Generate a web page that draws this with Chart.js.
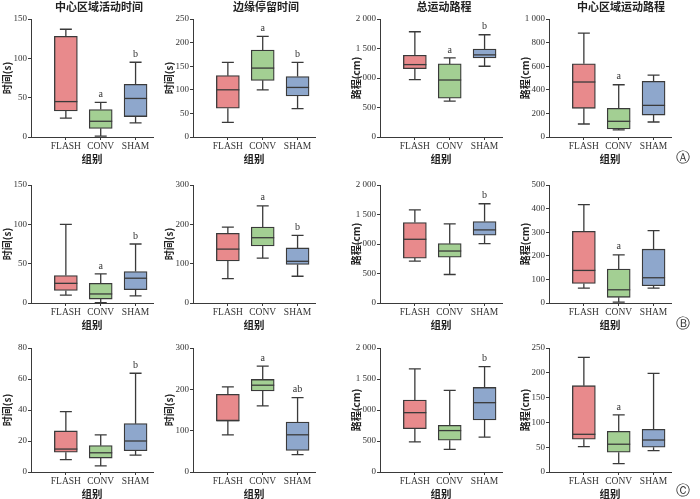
<!DOCTYPE html>
<html>
<head>
<meta charset="utf-8">
<script src="https://cdn.jsdelivr.net/npm/chart.js@4.4.0/dist/chart.umd.min.js"></script>
<style>
  body { margin: 0; width: 700px; height: 499px; background: #fff; position: relative; overflow: hidden; }
  .panel { position: absolute; }
  .ptitle { position: absolute; font-family: "Noto Sans CJK SC", sans-serif; font-weight: bold; font-size: 11px; color: #222; transform: translateX(-50%); white-space: nowrap; line-height: 12px; }
  .tag { position: absolute; font-family: "DejaVu Sans", sans-serif; font-size: 14px; color: #333; line-height: 14px; }
</style>
</head>
<body>
<script>
// 组别
const groups = ['FLASH', 'CONV', 'SHAM'];
const panelTitles = ['中心区域活动时间', '边缘停留时间', '总运动路程', '中心区域运动路程'];
const yTitles = ['时间(s)', '时间(s)', '路程(cm)', '路程(cm)'];
const rowTags = ['Ⓐ', 'Ⓑ', 'Ⓒ'];

// y 轴范围与刻度间隔（每行四个面板）
const yMaxRows = [[150, 250, 2000, 1000], [150, 300, 2000, 500], [80, 300, 2000, 250]];
const yStepRows = [[50, 50, 500, 200], [50, 100, 500, 100], [20, 100, 500, 50]];

// 每组 [最小值, Q1, 中位数, Q3, 最大值]
const boxA1 = [[24, 33, 45, 128, 137], [1, 11, 20, 35, 44], [18, 26, 49, 67, 95]];
const boxA2 = [[31, 61, 100, 130, 158], [100, 120, 146, 184, 213], [60, 87, 105, 128, 158]];
const boxA3 = [[972, 1159, 1227, 1386, 1784], [608, 659, 966, 1239, 1341], [1199, 1341, 1392, 1489, 1733]];
const boxA4 = [[110, 243, 466, 621, 881], [60, 68, 133, 243, 443], [127, 186, 268, 472, 525]];

const boxB1 = [[10, 16, 25, 35, 100], [0.5, 5, 11.5, 25, 37], [9, 17, 31.5, 40, 75]];
const boxB2 = [[62, 107, 137, 177, 193], [114, 145, 166, 193, 247], [68, 98, 106, 140, 172]];
const boxB3 = [[710, 761, 1080, 1364, 1580], [483, 778, 881, 1006, 1341], [1006, 1148, 1239, 1381, 1682]];
const boxB4 = [[63, 83, 138, 304, 417], [4, 24, 56, 144, 204], [63, 73, 107, 228, 307]];

const boxC1 = [[8, 12.8, 14.8, 26.5, 39], [4, 9, 12.4, 17, 24], [10.9, 13.7, 20, 31.2, 63.7]];
const boxC2 = [[90, 124, 124, 188, 206], [160, 196, 210, 224, 256], [42, 52, 90, 121, 180]];
const boxC3 = [[487, 700, 957, 1160, 1663], [364, 513, 668, 754, 1316], [561, 840, 1118, 1364, 1700]];
const boxC4 = [[51, 66, 76, 174, 231], [17, 40, 56, 82, 115], [43, 50, 64.5, 86, 199]];

// 显著性标记
const lettersA = [['', 'a', 'b'], ['', 'a', 'b'], ['', 'a', 'b'], ['', 'a', '']];
const lettersB = [['', 'a', 'b'], ['', 'a', 'b'], ['', '', 'b'], ['', 'a', '']];
const lettersC = [['', '', 'b'], ['', 'a', 'ab'], ['', '', 'b'], ['', 'a', '']];

const boxRows = [[boxA1, boxA2, boxA3, boxA4], [boxB1, boxB2, boxB3, boxB4], [boxC1, boxC2, boxC3, boxC4]];
const letterRows = [lettersA, lettersB, lettersC];

const fills = ['#e88a8c', '#a3cf93', '#8ea7cc'];
const edge = '#3a3a3a';

// 版面位置
const axisX = [31, 193, 380, 549];
const axisTop = [19, 185, 348];
const axisZero = [137, 303, 472];
const titleX = [99, 266, 444, 621];
const tagY = [150, 316, 483];

function fmt(v) {
  return String(v).replace(/\B(?=(\d{3})+(?!\d))/g, ' ');
}

// 须线、中位线和字母
const whiskerPlugin = {
  id: 'whiskers',
  afterDatasetsDraw(chart) {
    const boxes = chart.options.plugins.whiskers.boxes;
    const letters = chart.options.plugins.whiskers.letters;
    const xs = chart.scales.x, ys = chart.scales.y;
    const ctx = chart.ctx;
    ctx.save();
    ctx.strokeStyle = edge;
    ctx.lineWidth = 1.3;
    boxes.forEach(function(b, i) {
      const x = xs.getPixelForValue(i + 1);
      const yMin = ys.getPixelForValue(b[0]);
      const yQ1 = ys.getPixelForValue(b[1]);
      const yMed = ys.getPixelForValue(b[2]);
      const yQ3 = ys.getPixelForValue(b[3]);
      const yMax = ys.getPixelForValue(b[4]);
      ctx.beginPath();
      ctx.moveTo(x, yQ3); ctx.lineTo(x, yMax);
      ctx.moveTo(x - 6, yMax); ctx.lineTo(x + 6, yMax);
      ctx.moveTo(x, yQ1); ctx.lineTo(x, yMin);
      ctx.moveTo(x - 6, yMin); ctx.lineTo(x + 6, yMin);
      ctx.stroke();
      ctx.beginPath();
      ctx.moveTo(x - 11.5, yMed); ctx.lineTo(x + 11.5, yMed);
      ctx.stroke();
      if (letters[i]) {
        ctx.fillStyle = '#333';
        ctx.font = '10px "Liberation Serif"';
        ctx.textAlign = 'center';
        ctx.textBaseline = 'bottom';
        ctx.fillText(letters[i], x, yMax - 3);
      }
    });
    ctx.restore();
  }
};

function makePanel(r, c) {
  const left = axisX[c] - 31;
  const top = axisTop[r] - 10;
  const h = axisZero[r] - axisTop[r];
  const div = document.createElement('div');
  div.className = 'panel';
  div.style.left = left + 'px';
  div.style.top = top + 'px';
  div.style.width = '165px';
  div.style.height = (10 + h + 28) + 'px';
  const canvas = document.createElement('canvas');
  div.appendChild(canvas);
  document.body.appendChild(div);

  const boxes = boxRows[r][c];
  new Chart(canvas, {
    type: 'bar',
    data: {
      datasets: [{
        data: boxes.map(function(b, i) { return { x: i + 1, y: [b[1], b[3]] }; }),
        backgroundColor: fills,
        borderColor: edge,
        borderWidth: 1.3,
        borderSkipped: false,
        barThickness: 23
      }]
    },
    options: {
      responsive: true,
      maintainAspectRatio: false,
      animation: false,
      layout: { padding: { top: 10, right: 12, bottom: 0, left: 0 } },
      plugins: {
        legend: { display: false },
        tooltip: { enabled: false },
        whiskers: { boxes: boxes, letters: letterRows[r][c] }
      },
      scales: {
        x: {
          type: 'linear',
          offset: false,
          min: 0,
          max: 3.5,
          afterBuildTicks: function(axis) {
            axis.ticks = [1, 2, 3].map(function(v) { return { value: v }; });
          },
          afterFit: function(scale) { scale.height = 28; },
          ticks: {
            autoSkip: false,
            maxRotation: 0,
            padding: 1,
            color: '#333',
            font: { family: 'Liberation Serif', size: 9.5 },
            callback: function(v) { return groups[v - 1]; }
          },
          grid: { display: true, drawOnChartArea: false, drawTicks: true, tickLength: 3, color: edge, offset: false },
          border: { display: true, color: edge, width: 1 },
          title: {
            display: true,
            text: '组别',
            color: '#222',
            padding: { top: 0, bottom: 0 },
            font: { family: 'Noto Sans CJK SC', size: 10.5, weight: 'bold' }
          }
        },
        y: {
          min: 0,
          max: yMaxRows[r][c],
          afterFit: function(scale) { scale.width = 31; },
          ticks: {
            stepSize: yStepRows[r][c],
            padding: 1,
            color: '#333',
            font: { family: 'Liberation Serif', size: 9 },
            callback: function(v) { return fmt(v); }
          },
          grid: { display: true, drawOnChartArea: false, drawTicks: true, tickLength: 3, color: edge },
          border: { display: true, color: edge, width: 1 },
          title: {
            display: true,
            text: yTitles[c],
            color: '#222',
            padding: { top: 1, bottom: 0 },
            font: { family: 'Noto Sans CJK SC', size: 10, weight: 'bold' }
          }
        }
      }
    },
    plugins: [whiskerPlugin]
  });
}

for (let r = 0; r < 3; r++) {
  for (let c = 0; c < 4; c++) {
    makePanel(r, c);
  }
  const tag = document.createElement('div');
  tag.className = 'tag';
  tag.style.left = '676px';
  tag.style.top = tagY[r] + 'px';
  tag.textContent = rowTags[r];
  document.body.appendChild(tag);
}

for (let c = 0; c < 4; c++) {
  const t = document.createElement('div');
  t.className = 'ptitle';
  t.style.left = titleX[c] + 'px';
  t.style.top = '0px';
  t.textContent = panelTitles[c];
  document.body.appendChild(t);
}
</script>
</body>
</html>
